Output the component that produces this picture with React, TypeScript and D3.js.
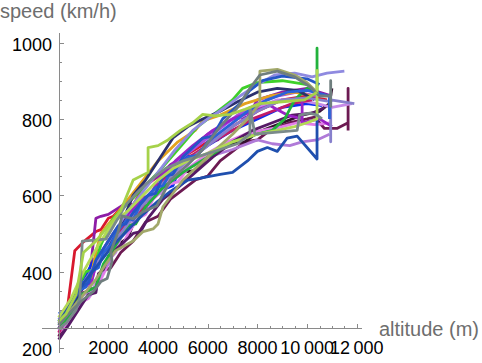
import * as d3 from 'd3'
import type { ReactElement } from 'react'

type Pt = [number, number]

// altitude (m), speed (km/h) pairs
const redSeries: Pt[] = [[250, 252], [650, 455], [1000, 478], [1500, 505], [1700, 510], [2000, 540], [2200, 545], [2700, 580], [3000, 575], [3400, 620], [4200, 660], [4600, 665], [5000, 700], [6000, 740], [6400, 745], [7000, 780], [8000, 820], [9000, 850], [10000, 860], [10800, 850]]
const purpleSeries: Pt[] = [[100, 240], [400, 290], [800, 350], [1100, 365], [1300, 420], [1500, 540], [1700, 545], [2000, 550], [2600, 575], [3000, 600], [3300, 620], [4000, 650], [4500, 680], [5000, 700], [6000, 760], [7000, 800], [7600, 805], [8000, 850], [9000, 870], [10000, 880], [11000, 860]]
const maroonSeries: Pt[] = [[0, 230], [500, 300], [1000, 345], [1500, 360], [1700, 400], [2100, 410], [2500, 450], [3000, 480], [3500, 530], [4000, 545], [4500, 590], [5500, 640], [6000, 650], [6500, 690], [7500, 740], [8000, 745], [8500, 770], [9300, 790], [10000, 800], [10300, 805], [10700, 775], [11200, 775], [11650, 790], [11650, 880], [11650, 770]]
const darkSeries: Pt[] = [[0, 250], [600, 330], [900, 335], [1200, 350], [1500, 360], [1800, 400], [2400, 470], [2800, 490], [3200, 560], [3500, 565], [4000, 610], [5000, 660], [5500, 665], [6000, 700], [7000, 735], [7500, 740], [8000, 765], [9000, 790], [9800, 810], [10500, 820], [10900, 840], [11000, 880]]
const brightBlueSeries: Pt[] = [[100, 260], [500, 320], [800, 330], [1000, 380], [1500, 440], [1700, 445], [2000, 480], [2600, 530], [2900, 535], [3200, 570], [4000, 610], [4600, 625], [4800, 660], [5100, 700], [5500, 705], [6000, 730], [7000, 770], [8000, 800], [9000, 830], [10000, 840], [10600, 835]]
const pinkSeries: Pt[] = [[0, 240], [400, 270], [900, 320], [1200, 330], [1400, 350], [1700, 380], [2000, 420], [2300, 460], [2500, 460], [2800, 500], [3200, 540], [3500, 550], [3800, 590], [4500, 630], [4800, 635], [5200, 670], [6000, 710], [6800, 740], [7500, 760], [8200, 770], [9000, 780], [9600, 790], [10300, 785], [11000, 790]]
const lightPurpleSeries: Pt[] = [[0, 245], [500, 290], [1000, 340], [1300, 345], [1500, 370], [2000, 430], [2300, 450], [2600, 510], [3200, 560], [3800, 600], [4100, 605], [4400, 640], [5100, 680], [5800, 720], [6500, 760], [7200, 800], [8000, 830], [8800, 850], [9600, 850], [10400, 840], [11000, 830], [11800, 840]]
const lilacSeries: Pt[] = [[100, 250], [600, 300], [900, 315], [1100, 330], [1500, 350], [1700, 400], [2000, 420], [2300, 470], [3000, 530], [3300, 545], [3700, 590], [4400, 630], [5200, 670], [6000, 700], [7000, 720], [8000, 745], [8600, 735], [9300, 730], [9800, 740], [10400, 745], [10900, 760]]
const violetSeries: Pt[] = [[0, 250], [500, 300], [1000, 360], [1300, 365], [1500, 420], [2100, 480], [2400, 485], [2700, 530], [3300, 580], [3600, 585], [4000, 640], [4800, 690], [5600, 730], [6400, 770], [7200, 810], [8000, 840], [8800, 860], [9600, 870], [10400, 860]]
const crimsonSeries: Pt[] = [[0, 240], [500, 300], [1000, 360], [1500, 420], [2000, 480], [2500, 510], [3000, 550], [3300, 555], [3600, 600], [4200, 640], [4800, 680], [5500, 710], [6200, 740], [7000, 770], [7800, 800], [8600, 820], [9400, 840], [10200, 850]]
const darkPurpleSeries: Pt[] = [[0, 222], [400, 260], [900, 310], [1200, 340], [1500, 345], [1600, 395], [1800, 405], [2000, 440], [2500, 470], [3000, 500], [3300, 505], [3600, 540], [4200, 590], [4800, 620], [5500, 660], [6200, 700], [7000, 740], [7800, 770], [8600, 790], [9400, 810], [10200, 815], [10700, 830]]
const purpleCSeries: Pt[] = [[0, 250], [500, 305], [1000, 365], [1300, 370], [1600, 440], [2200, 500], [2800, 550], [3400, 595], [3700, 598], [4000, 640], [4700, 690], [5400, 730], [6200, 770], [7000, 800], [7800, 820], [8500, 835], [9200, 810], [9800, 800], [9800, 850], [9800, 790], [10500, 800], [11000, 780]]
const orangeSeries: Pt[] = [[100, 260], [600, 320], [1100, 380], [1300, 385], [1500, 450], [1700, 500], [2200, 540], [2800, 590], [3400, 640], [4000, 690], [4800, 740], [5500, 770], [5800, 795], [6500, 810], [7500, 840], [8500, 860], [9500, 870], [10200, 860]]
const greenASeries: Pt[] = [[0, 250], [400, 280], [900, 340], [1500, 360], [1800, 420], [2200, 460], [2800, 520], [3100, 525], [3500, 570], [4200, 620], [5000, 660], [6000, 700], [7000, 740], [8000, 760], [8600, 770], [9100, 800], [9500, 850], [10000, 880], [10400, 870], [10400, 985], [10400, 880]]
const greenBSeries: Pt[] = [[100, 270], [600, 340], [1100, 400], [1400, 405], [1700, 470], [2200, 540], [2800, 580], [3400, 620], [4000, 660], [4800, 720], [5600, 780], [6400, 820], [7000, 850], [7400, 880], [8000, 895], [9000, 900], [10000, 890]]
const navySeries: Pt[] = [[0, 260], [500, 310], [1000, 360], [1500, 420], [2000, 470], [2500, 520], [3000, 600], [3500, 640], [4000, 690], [4600, 750], [5200, 780], [5800, 800], [6500, 820], [7200, 845], [8000, 870], [8800, 880], [9600, 875], [10300, 850]]
const lavenderASeries: Pt[] = [[0, 275], [500, 320], [1000, 370], [1600, 430], [2200, 500], [2800, 560], [3400, 610], [4000, 660], [4700, 720], [5400, 770], [6000, 800], [6700, 830], [7300, 860], [8000, 890], [8700, 915], [9500, 920], [10200, 910], [10800, 920], [11500, 925]]
const lavenderBSeries: Pt[] = [[0, 265], [600, 330], [1200, 390], [1800, 440], [2500, 500], [3200, 560], [4000, 620], [5000, 680], [6000, 730], [7000, 780], [8000, 820], [9000, 850], [10000, 855], [10950, 845], [10950, 740], [10950, 850], [11900, 840]]
const blueSeries: Pt[] = [[0, 290], [400, 300], [800, 350], [1100, 360], [1300, 400], [1600, 410], [1800, 450], [2100, 470], [2300, 500], [2800, 540], [3000, 535], [3300, 580], [3900, 620], [4200, 625], [4500, 660], [5200, 700], [5600, 705], [6000, 740], [6800, 780], [7600, 820], [8400, 850], [9200, 870], [10000, 875], [10900, 860], [10900, 800]]
const midBlueSeries: Pt[] = [[0, 270], [400, 300], [900, 360], [1200, 370], [1500, 430], [2000, 480], [2400, 520], [2700, 525], [3000, 555], [3600, 600], [3900, 605], [4200, 650], [4600, 655], [5000, 700], [5800, 750], [6200, 755], [6600, 800], [7300, 840], [7700, 875], [8200, 900], [9000, 912], [10000, 905], [10500, 890]]
const lowBlueSeries: Pt[] = [[0, 270], [500, 320], [1000, 370], [1600, 420], [2200, 470], [2800, 510], [3400, 550], [4000, 585], [4500, 610], [5200, 640], [5700, 645], [6500, 655], [7000, 660], [7600, 690], [8000, 715], [8400, 725], [8800, 715], [9200, 750], [9600, 755], [10400, 695], [10400, 820]]
const oliveSeries: Pt[] = [[0, 265], [500, 300], [1000, 340], [1500, 380], [1900, 420], [2300, 455], [2700, 470], [3000, 480], [3400, 505], [3800, 512], [4000, 525], [4200, 570], [5000, 640], [6000, 700], [7000, 760], [7600, 800], [8100, 840], [8100, 925], [8800, 930], [9500, 915], [10000, 895], [10400, 870]]
const limeCSeries: Pt[] = [[0, 280], [500, 330], [1000, 400], [1600, 470], [2200, 530], [2800, 560], [3400, 600], [4000, 640], [4600, 670], [5200, 690], [6000, 710], [7000, 740], [8000, 760], [8800, 770], [9500, 780], [10000, 790], [10400, 800], [10400, 930]]
const grayASeries: Pt[] = [[0, 250], [300, 265], [700, 300], [850, 330], [950, 480], [1900, 485], [2300, 530], [2700, 575], [3200, 610], [3700, 640], [4300, 670], [5000, 690], [5800, 705], [6500, 720], [7200, 735], [7700, 760], [7700, 830], [7900, 760], [8700, 765], [9600, 770], [9700, 810], [10100, 815], [10400, 810], [10600, 800]]
const grayBSeries: Pt[] = [[0, 260], [400, 290], [900, 322], [1400, 348], [1700, 374], [1950, 382], [2150, 427], [2100, 453], [2400, 505], [2550, 546], [3000, 538], [3400, 557], [3950, 572], [4500, 640], [5200, 680], [5800, 720], [6500, 780], [7200, 830], [7700, 880], [8100, 915], [8800, 925], [9500, 910], [10100, 885], [10500, 860], [10950, 860], [10950, 900], [10950, 830]]
const limeASeries: Pt[] = [[0, 270], [300, 290], [700, 340], [1000, 450], [1500, 480], [2000, 520], [2500, 560], [3000, 640], [3600, 660], [3600, 725], [4000, 730], [4400, 745], [4900, 770], [5400, 790], [5800, 812], [6300, 808], [6900, 812], [7500, 825], [8100, 840], [9000, 845], [9900, 850], [10400, 870]]

const seriesList: Pt[][] = [
  redSeries, purpleSeries, maroonSeries, darkSeries, brightBlueSeries, pinkSeries,
  lightPurpleSeries, lilacSeries, violetSeries, crimsonSeries, darkPurpleSeries, purpleCSeries,
  orangeSeries, greenASeries, greenBSeries, navySeries, lavenderASeries, lavenderBSeries,
  blueSeries, midBlueSeries, lowBlueSeries, oliveSeries, limeCSeries, grayASeries, grayBSeries, limeASeries,
]
const seriesColors = [
  '#d8192e', '#8d1ca6', '#6c1a52', '#33112e', '#0b2ef0', '#e27ee8',
  '#c68ae8', '#b07ad8', '#a84fe0', '#c21c68', '#561a66', '#9a22c6',
  '#e3a21f', '#22b23c', '#3fd02a', '#2b306e', '#8f8ae0', '#8780cc',
  '#2a62d8', '#2456c6', '#1f4fae', '#a2a86a', '#b3d955', '#7a8a8a', '#6f7e7e', '#a6d24a',
]

const yMajorTicks = [200, 400, 600, 800, 1000]
const xMajorTicks = [2000, 4000, 6000, 8000, 10000, 12000]
const xTickLabels = ['2000', '4000', '6000', '8000', '10\u2009000', '12\u2009000']

const width = 482
const height = 363
const font = '"Liberation Sans", Arial, Helvetica, sans-serif'

export default function App(): ReactElement {
  const x = d3.scaleLinear().domain([-670, 12210]).range([42, 362])
  const y = d3.scaleLinear().domain([187, 1025]).range([353, 33])
  const axisY = Math.round(y(252)) + 0.5
  const axisX = Math.round(x(0)) + 0.5

  const line = d3
    .line<Pt>()
    .x((d) => x(d[0]))
    .y((d) => y(d[1]))

  const yMinor = d3.range(250, 1000, 50).filter((v) => !yMajorTicks.includes(v))
  const xMinor = d3.range(500, 12000, 500).filter((v) => !xMajorTicks.includes(v))

  return (
    <svg
      width={width}
      height={height}
      style={{ position: 'absolute', left: 0, top: 0, background: '#fff' }}
      fontFamily={font}
    >
      <g fill="none" strokeWidth={2.8} strokeLinejoin="round" strokeLinecap="butt">
        {seriesList.map((s, i) => (
          <path key={i} d={line(s) ?? ''} stroke={seriesColors[i]} />
        ))}
      </g>

      <g stroke="#8a8a8a" strokeWidth={1}>
        <line x1={42} x2={362} y1={axisY} y2={axisY} />
        <line x1={axisX} x2={axisX} y1={33} y2={353} />
        {xMajorTicks.map((v) => (
          <line key={v} x1={Math.round(x(v)) + 0.5} x2={Math.round(x(v)) + 0.5} y1={axisY} y2={axisY - 4.5} />
        ))}
        {xMinor.map((v) => (
          <line key={v} x1={Math.round(x(v)) + 0.5} x2={Math.round(x(v)) + 0.5} y1={axisY} y2={axisY - 2.5} />
        ))}
        {yMajorTicks.map((v) => (
          <line key={v} x1={axisX} x2={axisX + 4.5} y1={Math.round(y(v)) + 0.5} y2={Math.round(y(v)) + 0.5} />
        ))}
        {yMinor.map((v) => (
          <line key={v} x1={axisX} x2={axisX + 2.5} y1={Math.round(y(v)) + 0.5} y2={Math.round(y(v)) + 0.5} />
        ))}
      </g>

      <g fontSize={18} fill="#000">
        {yMajorTicks.map((v) => (
          <text key={v} x={52} y={y(v) + 8} textAnchor="end">
            {v}
          </text>
        ))}
        {xMajorTicks.map((v, i) => (
          <text key={v} x={x(v)} y={354} textAnchor="middle">
            {xTickLabels[i]}
          </text>
        ))}
      </g>

      <g fontSize={20} fill="#6e6e6e">
        <text x={0} y={18}>speed (km/h)</text>
        <text x={379} y={336}>altitude (m)</text>
      </g>
    </svg>
  )
}
